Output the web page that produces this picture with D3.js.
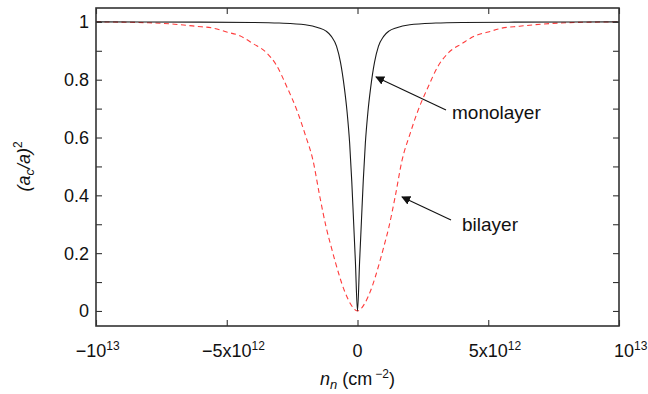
<!DOCTYPE html>
<html lang="en">
<head>
<meta charset="UTF-8">
<title>(a_c/a)^2 vs n_n</title>
<style>
  body { margin: 0; background: #fff; }
  svg text { font-family: "Liberation Sans", Arial, Helvetica, sans-serif; fill: #111; }
</style>
</head>
<body>
<div id="chart-container"></div>
<script src="https://d3js.org/d3.v7.min.js"></script>
<script>
// carrier density in units of 1e12 cm^-2
const monoN = [-10, -6, -4, -3, -2, -1.5, -1.2, -1.0, -0.8, -0.65, -0.5, -0.4, -0.3, -0.22, -0.15, -0.08, 0,
               0.08, 0.15, 0.22, 0.3, 0.4, 0.5, 0.65, 0.8, 1.0, 1.2, 1.5, 2, 3, 4, 6, 10];
const monoV = [1.0, 0.999, 0.998, 0.996, 0.99, 0.98, 0.968, 0.95, 0.915, 0.86, 0.77, 0.69, 0.58, 0.45, 0.31, 0.17, 0,
               0.17, 0.31, 0.45, 0.58, 0.69, 0.77, 0.86, 0.915, 0.95, 0.968, 0.98, 0.99, 0.996, 0.998, 0.999, 1.0];

const biN = [-10, -8, -7, -6.2, -5.5, -5, -4.5, -4, -3.5, -3.1, -2.7, -2.3, -2.0, -1.7, -1.45, -1.2, -1.0, -0.85, -0.5, -0.27, 0,
             0.27, 0.5, 0.85, 1.0, 1.2, 1.45, 1.7, 2.0, 2.3, 2.7, 3.1, 3.5, 4, 4.5, 5, 5.5, 6.2, 7, 8, 10];
const biV = [1.0, 0.997, 0.992, 0.985, 0.978, 0.965, 0.952, 0.925, 0.895, 0.85, 0.775, 0.69, 0.61, 0.52, 0.40, 0.29, 0.22, 0.17, 0.07, 0.025, 0,
             0.025, 0.07, 0.17, 0.22, 0.29, 0.40, 0.52, 0.61, 0.69, 0.775, 0.85, 0.895, 0.925, 0.952, 0.965, 0.978, 0.985, 0.992, 0.997, 1.0];

const xTicks = [-10, -5, 0, 5, 10];
const xTickBase = ["\u221210", "\u22125x10", "0", "5x10", "10"];
const xTickSup = ["13", "12", "", "12", "13"];
const yTicks = [0, 0.2, 0.4, 0.6, 0.8, 1];
const yMinor = [0, 0.1, 0.2, 0.3, 0.4, 0.5, 0.6, 0.7, 0.8, 0.9, 1];

const W = 648, H = 394;
const LEFT = 96, RIGHT = 619, TOP = 8, BOTTOM = 326;

const svg = d3.select("#chart-container").append("svg")
  .attr("width", W).attr("height", H);

const x = d3.scaleLinear().domain([-10, 10]).range([LEFT, RIGHT]);
const y = d3.scaleLinear().domain([-0.052, 1.048]).range([BOTTOM, TOP]);

// curves
const line = d3.line().curve(d3.curveMonotoneX);

svg.append("path")
  .attr("fill", "none")
  .attr("stroke", "#ff3b3b")
  .attr("stroke-width", 1.1)
  .attr("stroke-dasharray", "5,3.5")
  .attr("d", line(biN.map((n, i) => [x(n), y(biV[i])])));

svg.append("path")
  .attr("fill", "none")
  .attr("stroke", "#1a1a1a")
  .attr("stroke-width", 1.1)
  .attr("d", line(monoN.map((n, i) => [x(n), y(monoV[i])])));

// axes, ticks pointing inward on all sides
const axisStyle = g => {
  g.select(".domain").remove();
  g.selectAll(".tick line").attr("stroke", "#333").attr("stroke-width", 1.1);
  g.selectAll(".tick text").remove();
};
svg.append("g").attr("transform", `translate(0,${BOTTOM})`)
  .call(d3.axisBottom(x).tickValues(xTicks).tickSize(-6)).call(axisStyle);
svg.append("g").attr("transform", `translate(0,${TOP})`)
  .call(d3.axisTop(x).tickValues(xTicks).tickSize(-6)).call(axisStyle);
svg.append("g").attr("transform", `translate(${LEFT},0)`)
  .call(d3.axisLeft(y).tickValues(yMinor).tickSize(-6)).call(axisStyle);
svg.append("g").attr("transform", `translate(${RIGHT},0)`)
  .call(d3.axisRight(y).tickValues(yMinor).tickSize(-6)).call(axisStyle);

svg.append("rect")
  .attr("x", LEFT).attr("y", TOP)
  .attr("width", RIGHT - LEFT).attr("height", BOTTOM - TOP)
  .attr("fill", "none").attr("stroke", "#333").attr("stroke-width", 1.6);

// y tick labels
svg.selectAll(".ylab").data(yTicks).enter().append("text")
  .attr("class", "ylab")
  .attr("x", LEFT - 7)
  .attr("y", d => y(d) + 6.5)
  .attr("text-anchor", "end")
  .attr("font-size", 18)
  .text(d => d3.format("")(d));

// x tick labels: centre the base number on the tick, superscript hangs right
const xEndShift = [-5, 0, 0, 0, 5];
xTicks.forEach((t, i) => {
  const txt = svg.append("text")
    .attr("y", BOTTOM + 31)
    .attr("font-size", 18);
  const base = txt.append("tspan").text(xTickBase[i]);
  const bw = base.node().getComputedTextLength();
  txt.attr("x", x(t) - bw / 2 + xEndShift[i]);
  if (xTickSup[i]) {
    txt.append("tspan").attr("dy", -7).attr("font-size", 12).text(xTickSup[i]);
  }
});

// axis titles
const xt = svg.append("text")
  .attr("x", x(0))
  .attr("y", 385)
  .attr("text-anchor", "middle")
  .attr("font-size", 18);
xt.append("tspan").attr("font-style", "italic").text("n");
xt.append("tspan").attr("font-style", "italic").attr("font-size", 13).attr("dy", 4).text("n");
xt.append("tspan").attr("dy", -4).text(" (cm");
xt.append("tspan").attr("font-size", 12).attr("dy", -7).attr("dx", 3).text("\u22122");
xt.append("tspan").attr("dy", 7).text(")");

const yt = svg.append("text")
  .attr("transform", `translate(30,${y(0.5)}) rotate(-90)`)
  .attr("text-anchor", "middle")
  .attr("font-size", 18);
yt.append("tspan").attr("font-style", "italic").text("(a");
yt.append("tspan").attr("font-style", "italic").attr("font-size", 13).attr("dy", 4).text("c");
yt.append("tspan").attr("font-style", "italic").attr("dy", -4).text("/a)");
yt.append("tspan").attr("font-size", 12).attr("dy", -8).text("2");

// annotations
const defs = svg.append("defs");
defs.append("marker")
  .attr("id", "head")
  .attr("viewBox", "0 0 10 10")
  .attr("refX", 9).attr("refY", 5)
  .attr("markerWidth", 9).attr("markerHeight", 9)
  .attr("markerUnits", "userSpaceOnUse")
  .attr("orient", "auto")
  .append("path").attr("d", "M0,0 L10,5 L0,10 z").attr("fill", "#111");

const notes = [
  {label: "monolayer", tail: [446, 110], head: [376, 77], tx: 452, ty: 119},
  {label: "bilayer", tail: [451, 220], head: [402, 197], tx: 462, ty: 231}
];
notes.forEach(d => {
  svg.append("line")
    .attr("x1", d.tail[0]).attr("y1", d.tail[1])
    .attr("x2", d.head[0]).attr("y2", d.head[1])
    .attr("stroke", "#111").attr("stroke-width", 1.1)
    .attr("marker-end", "url(#head)");
  svg.append("text")
    .attr("x", d.tx).attr("y", d.ty)
    .attr("font-size", 19)
    .text(d.label);
});
</script>
</body>
</html>
